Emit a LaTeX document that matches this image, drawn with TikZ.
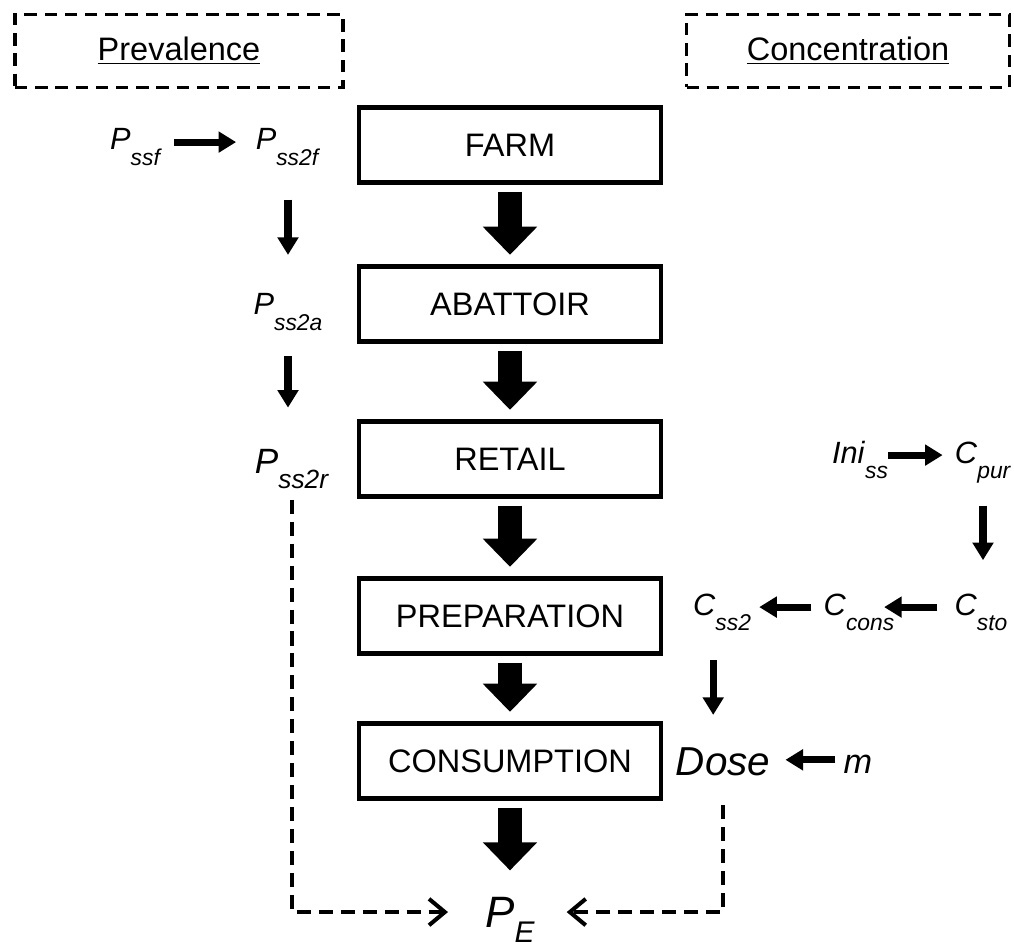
\documentclass[tikz,border=0pt]{standalone}
\usepackage{fontspec}
\setmainfont{Liberation Sans}
\usetikzlibrary{arrows.meta}
\newcommand{\vname}[3][13]{\textit{#2}\raisebox{-9pt}{\fontsize{#1}{#1}\selectfont\textit{#3}}}

\begin{document}
\begin{tikzpicture}[x=0.02cm, y=-0.02cm,
      stage/.style={draw, line width=2.3pt, minimum width=6.06cm, minimum height=1.5cm,
                    font=\fontsize{18.5}{22}\selectfont},
      hdr/.style={draw, dash pattern=on 7pt off 4.5pt, line width=2.2pt, minimum height=1.46cm,
                  font=\fontsize{18.5}{22}\selectfont},
      vlab/.style={anchor=base, inner sep=0pt, text height=13pt, text depth=4pt,
                   font=\fontsize{17.5}{21}\selectfont},
      flow/.style={line width=14pt, -{Triangle[length=16pt,width=30pt]}, shorten <=4pt, shorten >=5.5pt},
      arr/.style={line width=4pt, -{Triangle[length=10pt,width=11.5pt]}},
      link/.style={line width=2.3pt, dash pattern=on 8pt off 4.5pt, -{Straight Barb[length=9pt,width=15pt]}}
    ]
      \useasboundingbox (0,0) rectangle (1014,942);
      \node[hdr, minimum width=6.56cm] (prev) at (179,51) {\underline{Prevalence}};
      \node[hdr, minimum width=6.46cm] (conc) at (848,51) {\underline{Concentration}};
      % chain of stages
      \node[stage] (farm) at (510,145) {FARM};
      \node[stage] (abat) at (510,304) {ABATTOIR};
      \node[stage] (retail) at (510,459) {RETAIL};
      \node[stage] (prep) at (510,616) {PREPARATION};
      \node[stage] (cons) at (510,761) {CONSUMPTION};
      \node[vlab, text height=18pt, text depth=1pt, font=\fontsize{25}{30}\selectfont] (pe) at (510,927) {\vname[17]{P}{E}};
      \draw[flow] (farm) -- (abat);
      \draw[flow] (abat) -- (retail);
      \draw[flow] (retail) -- (prep);
      \draw[flow] (prep) -- (cons);
      \draw[flow, shorten >=14pt] (cons) -- (pe);
      % prevalence side
      \node[vlab] (pssf) at (136,150) {\vname{P}{ssf}};
      \node[vlab] (pss2f) at (288,150) {\vname{P}{ss2f}};
      \node[vlab] (pss2a) at (288,315) {\vname{P}{ss2a}};
      \node[vlab, font=\fontsize{20}{24}\selectfont] (pss2r) at (292,473) {\vname[15]{P}{ss2r}};
      \draw[arr, shorten <=6.8pt, shorten >=11pt] (pssf) -- (pss2f);
      \draw[arr, shorten <=24pt, shorten >=21pt] (pss2f) -- (pss2a);
      \draw[arr, shorten <=19pt, shorten >=24pt] (pss2a.south) -- (pss2a.south |- pss2r.north);
      \draw[link, shorten <=11pt, shorten >=21pt] (pss2r.south) |- (pe.west);
      % concentration side
      \node[vlab] (ini) at (860,463) {\vname{Ini}{ss}};
      \node[vlab] (cpur) at (983,463) {\vname{C}{pur}};
      \node[vlab] (csto) at (981,615) {\vname{C}{sto}};
      \node[vlab] (ccons) at (859,615) {\vname{C}{cons}};
      \node[vlab] (css2) at (722,615) {\vname{C}{ss2}};
      \node[vlab, text height=16pt, text depth=1pt, font=\fontsize{23}{27}\selectfont] (dose) at (723,775) {\textit{Dose}};
      \node[vlab, text height=16pt, text depth=1pt, font=\fontsize{19.5}{23}\selectfont] (m) at (858,773) {\textit{m}};
      \draw[arr, shorten >=6.8pt] (ini) -- (cpur);
      \draw[arr, shorten <=20pt, shorten >=18pt] (cpur.south) -- (cpur.south |- csto.north);
      \draw[arr, shorten <=9.6pt, shorten >=-6pt] (csto) -- (ccons);
      \draw[arr, shorten <=6.8pt, shorten >=4.5pt] (ccons) -- (css2);
      \draw[arr, shorten <=21.5pt, shorten >=18pt] ([xshift=-5pt]css2.south) -- ([xshift=-5pt]css2.south |- dose.north);
      \draw[arr, shorten <=4.5pt, shorten >=8.5pt] (m.west) -- (m.west -| dose.east);
      \draw[link, shorten <=16pt, shorten >=18pt] (dose.south) |- (pe.east);
    \end{tikzpicture}
\end{document}
